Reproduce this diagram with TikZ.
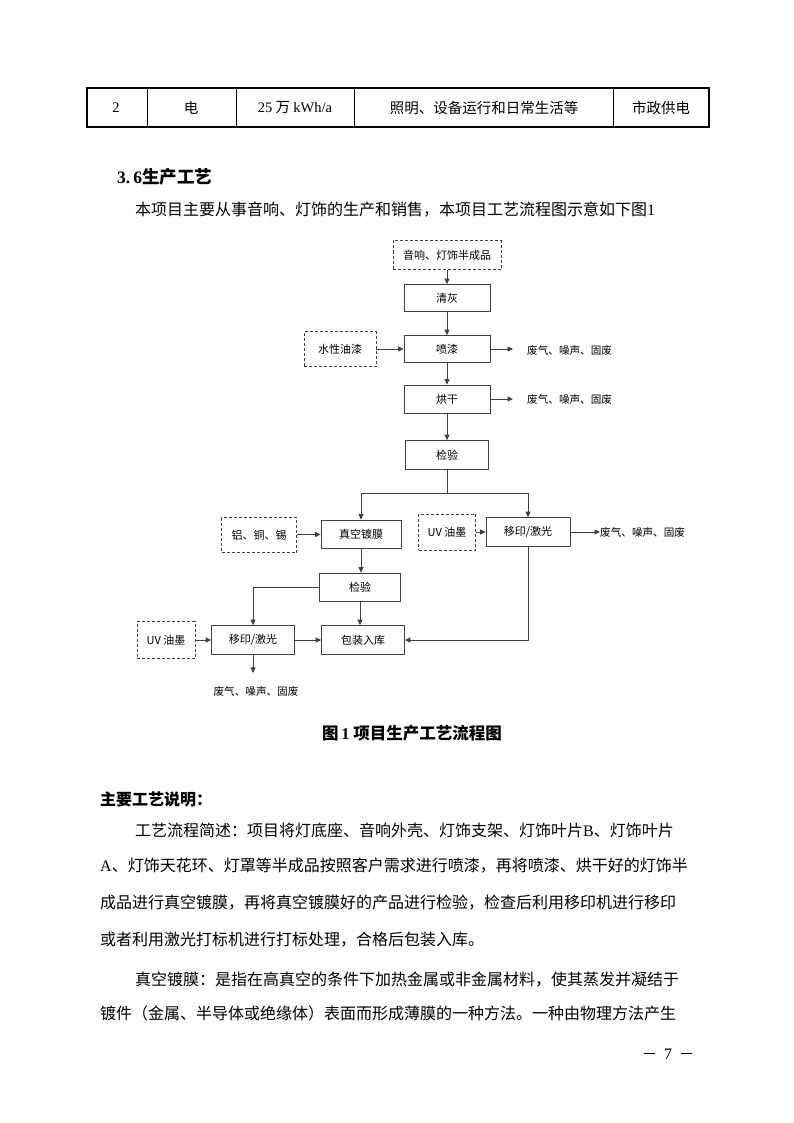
\documentclass[tikz,border=0pt]{standalone}
\usepackage{fontspec}
\setmainfont{Liberation Serif}
\newfontfamily\cjk{Noto Sans CJK SC}
\usetikzlibrary{arrows.meta,positioning}

\begin{document}
\begin{tikzpicture}[x=1pt,y=-1pt,
  cell/.style={inner sep=0pt,font=\cjk\fontsize{14.5}{17}\selectfont},
  proc/.style={draw=black!75,line width=.8pt,minimum width=86pt,minimum height=28pt,
    inner sep=0pt,font=\cjk\fontsize{11}{13}\selectfont},
  feed/.style={proc,dash pattern=on 3pt off 2pt},
  wire/.style={draw=black!75,line width=.8pt},
  flow/.style={wire,-{Triangle[length=5.5pt,width=5pt]}},
  waste/.style={inner sep=0pt,font=\cjk\fontsize{10.6}{12}\selectfont},
  body/.style={inner sep=0pt,anchor=west,font=\cjk\fontsize{16}{20}\selectfont},
  head/.style={inner sep=0pt,anchor=west,font=\cjk\bfseries\fontsize{16}{20}\selectfont}]
  \useasboundingbox[fill=white] (0,0) rectangle (794,1123);

  % table row
  \draw[line width=2pt] (87,88) rectangle (709,127);
  \foreach \cx in {147,236,354,613} \draw[line width=1pt] (\cx,88) -- (\cx,127);
  \node[cell] (no) at (116,108) {\rmfamily 2};
  \node[cell] (kind) at (191,108) {电};
  \node[cell] (amount) at (295,108) {{\rmfamily 25} 万 {\rmfamily kWh/a}};
  \node[cell] (use) at (484,108) {照明、设备运行和日常生活等};
  \node[cell] (supply) at (661,108) {市政供电};

  \node[inner sep=0pt,anchor=west,font=\cjk\bfseries\fontsize{17.5}{20}\selectfont] (sec) at (117,177)
    {{\rmfamily 3.\hspace{3pt}6}生产工艺};
  \node[body] (intro) at (135,210) {本项目主要从事音响、灯饰的生产和销售，本项目工艺流程图示意如下图{\rmfamily 1}};

  % flow chart
  \node[feed,minimum width=108pt,minimum height=29pt] (semi) at (447,255) {音响、灯饰半成品};
  \node[proc,minimum height=27pt] (dust) at (447,298) {清灰};
  \node[proc,minimum height=27pt] (spray) at (447,349) {喷漆};
  \node[feed,minimum width=72pt,minimum height=35pt] (paint) at (340,349) {水性油漆};
  \node[proc] (dry) at (447,399) {烘干};
  \node[proc,minimum width=83pt,minimum height=29pt] (check) at (447,455) {检验};
  \coordinate (split) at (447,493);
  \node[proc,minimum width=80pt] (coat) at (361,534) {真空镀膜};
  \node[feed,minimum width=75pt,minimum height=35pt] (metal) at (259,535) {铝、铜、锡};
  \node[proc,minimum width=84pt,minimum height=29pt] (printR) at (528,532) {移印/激光};
  \node[feed,minimum width=57pt,minimum height=36pt] (inkR) at (447,532) {UV 油墨};
  \node[proc,minimum width=81pt] (recheck) at (360,587) {检验};
  \node[proc,minimum width=83pt,minimum height=29pt] (printL) at (253,640) {移印/激光};
  \node[feed,minimum width=58pt,minimum height=37pt] (inkL) at (166,640) {UV 油墨};
  \node[proc,minimum width=83pt,minimum height=29pt] (pack) at (363,640) {包装入库};
  \node[waste,anchor=west] (w1) at (527,350) {废气、噪声、固废};
  \node[waste,anchor=west] (w2) at (527,399) {废气、噪声、固废};
  \node[waste,anchor=west] (w3) at (600,532) {废气、噪声、固废};
  \node[waste] (w4) at (256,691) {废气、噪声、固废};

  \draw[flow] (semi) -- (dust);
  \draw[flow] (dust) -- (spray);
  \draw[flow] (paint) -- (spray);
  \draw[flow] (spray.east) -- ([xshift=-14pt]spray.east -| w1.west);
  \draw[flow] (spray) -- (dry);
  \draw[flow] (dry.east) -- ([xshift=-14pt]w2.west);
  \draw[flow] (dry) -- (check);
  \draw[wire] (check) -- (split);
  \draw[flow] (split) -| (coat);
  \draw[flow] (split) -| (printR);
  \draw[flow] (metal) -- (coat);
  \draw[flow] (inkR) -- (printR);
  \draw[flow] (printR) -- (w3);
  \draw[flow] (coat.south) -- (coat.south |- recheck.north);
  \draw[flow] (recheck.west) -| (printL);
  \draw[flow] (recheck.south) -- (recheck.south |- pack.north);
  \draw[flow] (inkL) -- (printL);
  \draw[flow] (printL) -- (pack);
  \draw[flow] (printR) |- (pack);
  \draw[flow] (printL.south) -- ([yshift=13pt]w4.north -| printL.south);

  \node[inner sep=0pt,font=\cjk\bfseries\fontsize{16.5}{20}\selectfont] (cap) at (412,733)
    {图{\rmfamily\bfseries\,1} 项目生产工艺流程图};

  % text below
  \node[head] (notes) at (100,799) {主要工艺说明：};
  \node[body] (l1) at (135,830) {工艺流程简述：项目将灯底座、音响外壳、灯饰支架、灯饰叶片{\rmfamily B}、灯饰叶片};
  \node[body] (l2) at (100,866) {{\rmfamily A}、灯饰天花环、灯罩等半成品按照客户需求进行喷漆，再将喷漆、烘干好的灯饰半};
  \node[body] (l3) at (100,903) {成品进行真空镀膜，再将真空镀膜好的产品进行检验，检查后利用移印机进行移印};
  \node[body] (l4) at (100,940) {或者利用激光打标机进行打标处理，合格后包装入库。};
  \node[body] (l5) at (135,980) {真空镀膜：是指在高真空的条件下加热金属或非金属材料，使其蒸发并凝结于};
  \node[body] (l6) at (100,1013) {镀件（金属、半导体或绝缘体）表面而形成薄膜的一种方法。一种由物理方法产生};
  \node[inner sep=0pt,font=\fontsize{16}{20}\selectfont] (page) at (668,1054)
    {\rule[5pt]{11pt}{.8pt}\hspace{9pt}7\hspace{9pt}\rule[5pt]{11pt}{.8pt}};
\end{tikzpicture}
\end{document}
